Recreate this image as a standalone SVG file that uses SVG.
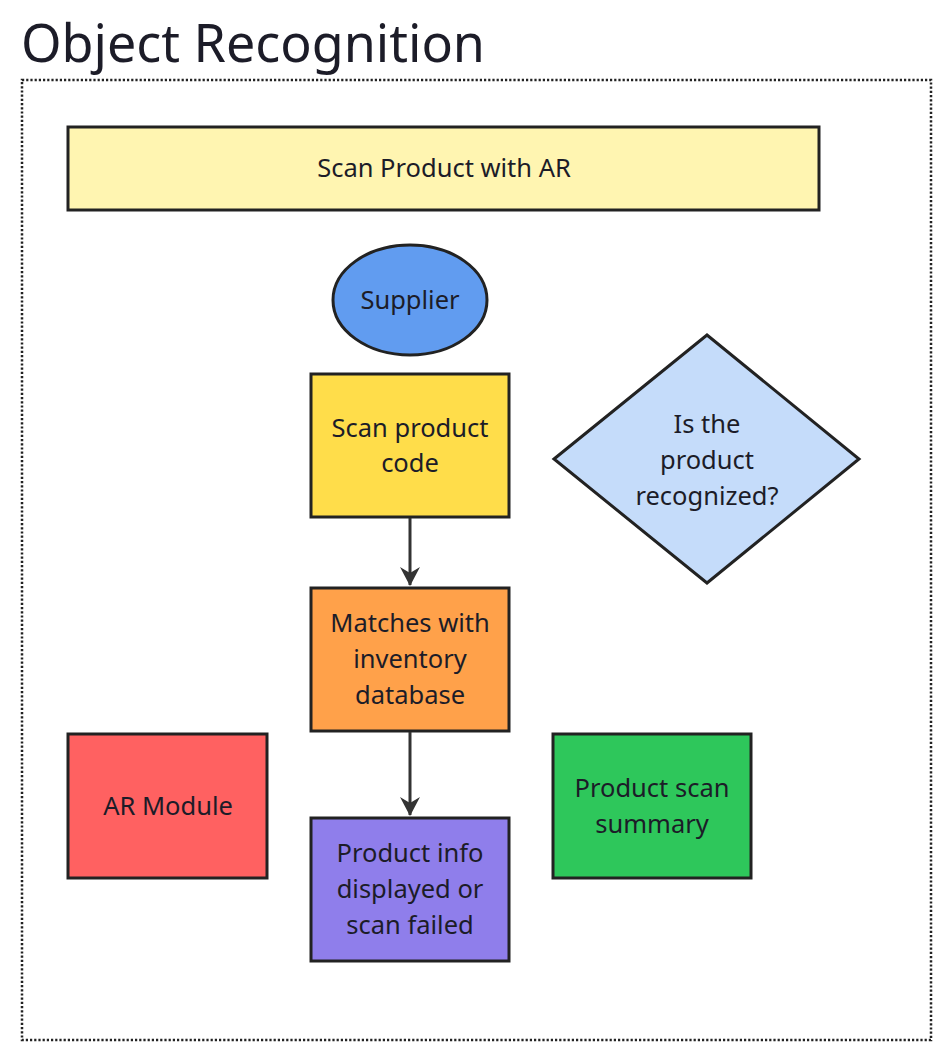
<svg xmlns="http://www.w3.org/2000/svg" width="945" height="1057" viewBox="0 0 945 1057">
<style>
text{font-family:"Noto Sans","Open Sans","Liberation Sans",sans-serif;fill:#1c1c28;text-anchor:middle}
.lbl{font-size:25.5px}
.shape{stroke:#222;stroke-width:3}
.edge{stroke:#333;stroke-width:3;fill:none}
</style>
<defs>
<marker id="ah" markerWidth="20" markerHeight="22" refX="19" refY="11" orient="auto" markerUnits="userSpaceOnUse" viewBox="0 0 20 22">
<path d="M1,1 L7,11 L1,21 L20,11 Z" fill="#333"/>
</marker>
</defs>
<rect width="945" height="1057" fill="#fff"/>
<text x="21" y="62" style="font-size:52px;text-anchor:start">Object Recognition</text>
<rect id="frame" x="22" y="80" width="909" height="960" fill="none" stroke="#222" stroke-width="2.5" stroke-dasharray="2.2 2"/>
<g id="banner">
<rect class="shape" x="68" y="127" width="751" height="83" fill="#FFF5B1"/>
<text class="lbl" x="444" y="177">Scan Product with AR</text>
</g>
<g id="supplier">
<ellipse class="shape" cx="410" cy="300" rx="77" ry="55" fill="#619CF0"/>
<text class="lbl" x="410" y="309">Supplier</text>
</g>
<g id="scan">
<rect class="shape" x="311" y="374" width="198" height="143" fill="#FFDD4A"/>
<text class="lbl" x="410" y="437">Scan product</text>
<text class="lbl" x="410" y="472">code</text>
</g>
<g id="decision">
<polygon class="shape" points="554,459 707,335 859,459 707,583" fill="#C5DCFA"/>
<text class="lbl" x="707" y="433">Is the</text>
<text class="lbl" x="707" y="469">product</text>
<text class="lbl" x="707" y="505">recognized?</text>
</g>
<g id="matches">
<rect class="shape" x="311" y="588" width="198" height="143" fill="#FFA14A"/>
<text class="lbl" x="410" y="632">Matches with</text>
<text class="lbl" x="410" y="668">inventory</text>
<text class="lbl" x="410" y="704">database</text>
</g>
<g id="armodule">
<rect class="shape" x="68" y="734" width="199" height="144" fill="#FF6161"/>
<text class="lbl" x="168" y="815">AR Module</text>
</g>
<g id="summary">
<rect class="shape" x="553" y="734" width="198" height="144" fill="#2EC75B"/>
<text class="lbl" x="652" y="797">Product scan</text>
<text class="lbl" x="652" y="833">summary</text>
</g>
<g id="result">
<rect class="shape" x="311" y="818" width="198" height="143" fill="#8F7EEB"/>
<text class="lbl" x="410" y="862">Product info</text>
<text class="lbl" x="410" y="898">displayed or</text>
<text class="lbl" x="410" y="934">scan failed</text>
</g>
<g id="connectors">
<line class="edge" x1="410" y1="518" x2="410" y2="585" marker-end="url(#ah)"/>
<line class="edge" x1="410" y1="732" x2="410" y2="815" marker-end="url(#ah)"/>
</g>
</svg>
